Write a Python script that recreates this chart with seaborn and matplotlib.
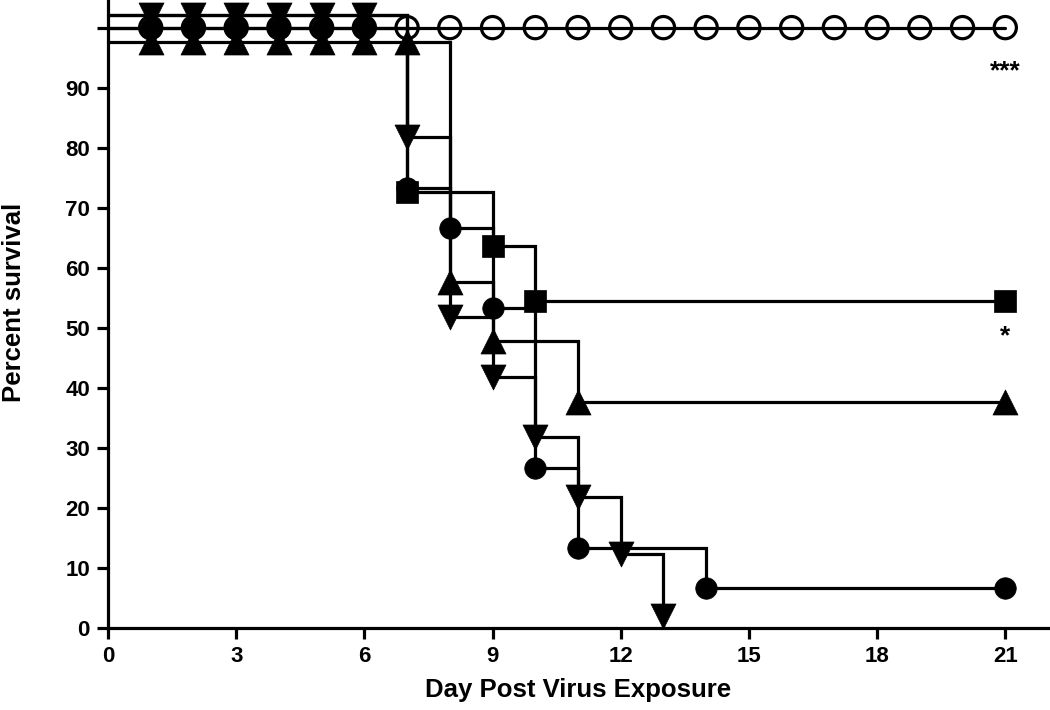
import matplotlib
matplotlib.use("Agg")
import matplotlib.pyplot as plt
import seaborn as sns
import pandas as pd
from matplotlib.transforms import offset_copy

# ---------------- data ----------------
open_days = list(range(0, 22))
open_surv = [100] * 22

dtri_days = [0, 1, 2, 3, 4, 5, 6, 7, 8, 9, 10, 11, 12, 13]
dtri_surv = [100, 100, 100, 100, 100, 100, 100, 81.8, 51.8, 41.8, 31.8, 21.8, 12.3, 0]

utri_days = [0, 1, 2, 3, 4, 5, 6, 7, 8, 9, 11, 21]
utri_surv = [100, 100, 100, 100, 100, 100, 100, 100, 57.7, 47.8, 37.6, 37.6]

sq_days = [0, 7, 9, 10, 21]
sq_surv = [100, 72.7, 63.6, 54.5, 54.5]

circ_days = [0, 1, 2, 3, 4, 5, 6, 7, 8, 9, 10, 11, 14, 21]
circ_surv = [100, 100, 100, 100, 100, 100, 100, 73.3, 66.7, 53.3, 26.7, 13.3, 6.7, 6.7]

x_ticks = [0, 3, 6, 9, 12, 15, 18, 21]
y_ticks = [0, 10, 20, 30, 40, 50, 60, 70, 80, 90, 100]
y_ticklabels = ["0", "10", "20", "30", "40", "50", "60", "70", "80", "90", ""]

annotations = [("***", 21, 92.8), ("*", 21, 48.6)]
x_label = "Day Post Virus Exposure"
y_label = "Percent survival"

# ---------------- styles ----------------
# (days, survival, marker, size, filled, plateau display offset)
groups = [
    (open_days, open_surv, "o", 16, False, 0.0),
    (circ_days, circ_surv, "o", 15.5, True, 0.0),
    (sq_days, sq_surv, "s", 15.5, True, 2.1),
    (utri_days, utri_surv, "^", 18, True, -2.4),
    (dtri_days, dtri_surv, "v", 18, True, 2.1),
]

sns.set_theme(style="ticks")
plt.rcParams["font.family"] = ["Liberation Sans", "DejaVu Sans"]
plt.rcParams["font.weight"] = "bold"
for k in ["text.color", "axes.labelcolor", "xtick.color", "ytick.color", "axes.edgecolor"]:
    plt.rcParams[k] = "black"

TICK_FS = 16
LAB_FS = 18.5

fig = plt.figure(figsize=(10.5, 7.1), dpi=100)
ax = fig.add_axes([108 / 1050, 82 / 710, 940 / 1050, 628 / 710])

LW = 2.3
for days, surv, mk, ms, filled, off in groups:
    ydisp = [v + off if v == 100 else v for v in surv]
    df = pd.DataFrame({"day": days, "surv": ydisp})
    sns.lineplot(data=df, x="day", y="surv", ax=ax, estimator=None, sort=False,
                 drawstyle="steps-post", color="black", lw=LW, clip_on=False,
                 solid_joinstyle="miter", zorder=2)
    mdf = df.iloc[1:]
    normal = mdf[mdf["surv"] > 0]
    floor = mdf[mdf["surv"] <= 0]
    if filled:
        kw = dict(marker=mk, s=ms ** 2, color="black", edgecolor="black", linewidth=0.5)
    else:
        kw = dict(marker=mk, s=ms ** 2, facecolor="none", edgecolor="black", linewidth=LW)
    sns.scatterplot(data=normal, x="day", y="surv", ax=ax, clip_on=False, zorder=3, **kw)
    if len(floor):
        tr = offset_copy(ax.transData, fig=fig, y=ms * 0.5, units="points")
        ax.scatter(floor["day"], floor["surv"], transform=tr, clip_on=False, zorder=3,
                   marker=mk, s=ms ** 2, c="black", edgecolors="black", linewidths=0.5)

for txt, xx, yy in annotations:
    ax.text(xx, yy, txt, ha="center", va="center", fontsize=19, fontweight="bold")

ax.set_xlim(0, 22)
ax.set_ylim(0, 104.6)
ax.set_xticks(x_ticks)
ax.set_yticks(y_ticks)
ax.set_yticklabels(y_ticklabels)
for s in ["top", "right"]:
    ax.spines[s].set_visible(False)
for s in ["left", "bottom"]:
    ax.spines[s].set_linewidth(LW)
    ax.spines[s].set_color("black")
ax.tick_params(axis="both", direction="out", length=8, width=LW, colors="black",
               labelsize=TICK_FS, pad=5)
for lab in ax.get_xticklabels() + ax.get_yticklabels():
    lab.set_fontweight("bold")

ax.set_xlabel(x_label, fontsize=LAB_FS, fontweight="bold")
ax.set_ylabel(y_label, fontsize=LAB_FS, fontweight="bold")
ax.xaxis.set_label_coords(0.5, -0.08)
ax.yaxis.set_label_coords(-0.087, 0.519)

fig.savefig("out.png", dpi=100)
